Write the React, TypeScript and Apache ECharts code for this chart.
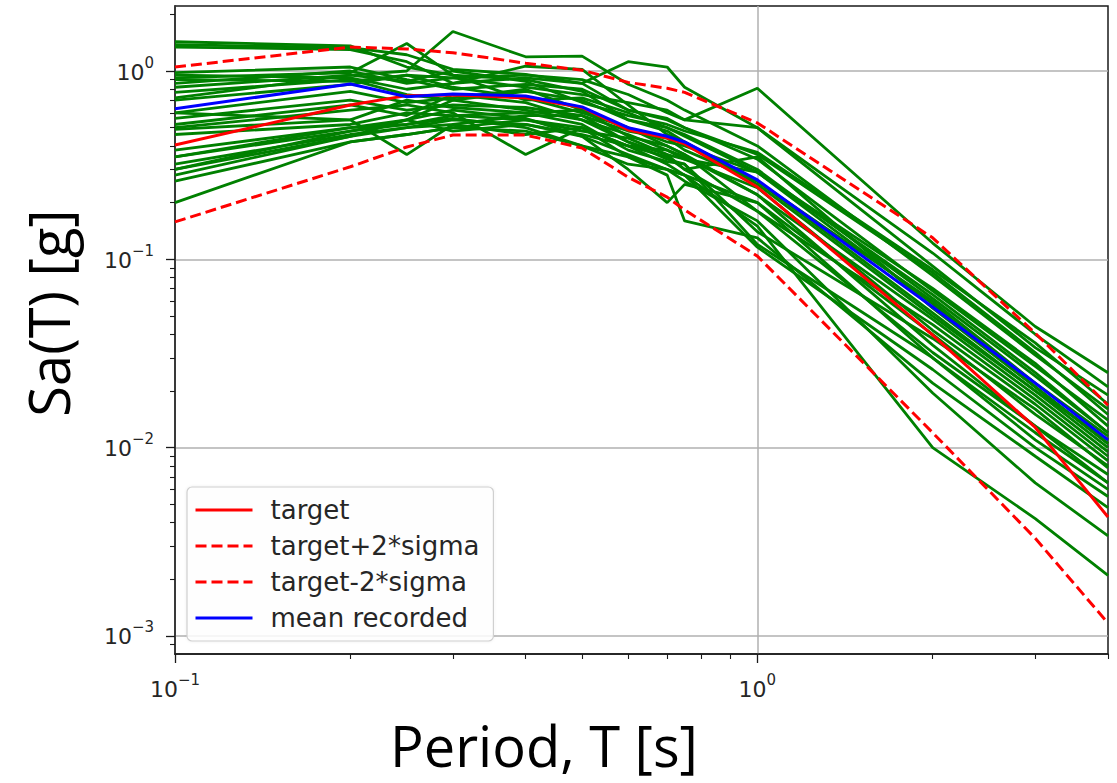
import React, { useEffect, useRef } from "react";
import * as echarts from "echarts";

// Periods (s)
const periods = [0.1, 0.2, 0.25, 0.3, 0.4, 0.5, 0.6, 0.7, 0.75, 1.0, 2.0, 3.0, 4.0];

// Target spectrum and +/- 2 sigma
const target = [0.405, 0.66, 0.74, 0.745, 0.72, 0.64, 0.486, 0.44, 0.41, 0.242, 0.0396, 0.0128, 0.00428];
const targetPlus = [1.05, 1.34, 1.31, 1.25, 1.1, 1.01, 0.87, 0.81, 0.77, 0.53, 0.13, 0.0405, 0.0168];
const targetMinus = [0.158, 0.31, 0.395, 0.457, 0.457, 0.39, 0.273, 0.214, 0.183, 0.104, 0.012, 0.0033, 0.00117];
const meanRecorded = [0.63, 0.853, 0.73, 0.755, 0.737, 0.645, 0.5, 0.45, 0.42, 0.264, 0.0558, 0.022, 0.011];

// Recorded spectra
const r01 = [1.43, 1.36, 1.05, 0.95, 0.9, 0.78, 0.55, 0.5, 0.46, 0.3, 0.062, 0.024, 0.012];
const r02 = [1.38, 1.33, 1.22, 1.02, 0.96, 0.86, 0.62, 0.55, 0.5, 0.34, 0.068, 0.027, 0.014];
const r03 = [1.34, 1.3, 1.12, 0.86, 1.06, 1.02, 0.66, 0.46, 0.42, 0.25, 0.05, 0.02, 0.011];
const r04 = [0.72, 0.95, 1.0, 1.62, 1.19, 1.2, 0.85, 0.7, 0.62, 0.4, 0.082, 0.031, 0.016];
const r05 = [0.86, 1.0, 0.86, 0.92, 0.95, 0.9, 0.75, 0.6, 0.55, 0.81, 0.122, 0.044, 0.025];
const r06 = [0.95, 0.92, 0.8, 0.86, 0.92, 0.86, 1.12, 1.05, 0.82, 0.5, 0.092, 0.034, 0.019];
const r07 = [0.6, 0.55, 0.36, 0.52, 0.46, 0.5, 0.35, 0.3, 0.28, 0.2, 0.04, 0.015, 0.008];
const r08 = [0.5, 0.62, 0.66, 0.6, 0.36, 0.5, 0.4, 0.35, 0.3, 0.18, 0.045, 0.018, 0.009];
const r09 = [0.3, 0.48, 0.55, 0.62, 0.56, 0.45, 0.3, 0.2, 0.25, 0.2, 0.03, 0.012, 0.0065];
const r10 = [0.35, 0.5, 0.52, 0.56, 0.5, 0.4, 0.35, 0.28, 0.16, 0.13, 0.022, 0.009, 0.0048];
const r11 = [0.28, 0.45, 0.5, 0.55, 0.52, 0.45, 0.36, 0.3, 0.28, 0.15, 0.01, 0.0042, 0.0021];
const r12 = [0.26, 0.42, 0.46, 0.5, 0.48, 0.4, 0.32, 0.3, 0.26, 0.16, 0.0195, 0.0065, 0.0034];
const r13 = [0.2, 0.42, 0.46, 0.5, 0.55, 0.5, 0.4, 0.38, 0.35, 0.22, 0.035, 0.013, 0.0065];
const r14 = [0.98, 1.05, 0.9, 0.8, 0.85, 0.8, 0.62, 0.56, 0.5, 0.36, 0.085, 0.032, 0.015];
const r15 = [0.92, 0.98, 1.4, 0.95, 0.7, 0.72, 0.6, 0.5, 0.45, 0.29, 0.07, 0.028, 0.013];
const r16 = [0.77, 0.9, 0.75, 0.7, 0.78, 0.7, 0.55, 0.48, 0.42, 0.26, 0.06, 0.022, 0.0115];
const r17 = [0.7, 0.85, 0.95, 0.82, 0.72, 0.6, 0.5, 0.42, 0.4, 0.29, 0.058, 0.021, 0.0105];
const r18 = [0.6, 0.78, 0.68, 0.72, 0.8, 0.62, 0.45, 0.4, 0.36, 0.22, 0.048, 0.019, 0.0095];
const r19 = [0.56, 0.7, 0.62, 0.66, 0.64, 0.58, 0.48, 0.44, 0.38, 0.26, 0.052, 0.02, 0.01];
const r20 = [0.52, 0.66, 0.58, 0.75, 0.68, 0.55, 0.42, 0.36, 0.34, 0.24, 0.042, 0.017, 0.0085];
const r21 = [0.49, 0.55, 0.7, 0.64, 0.6, 0.52, 0.38, 0.33, 0.32, 0.14, 0.038, 0.016, 0.0078];
const r22 = [0.46, 0.52, 0.6, 0.58, 0.55, 0.48, 0.44, 0.36, 0.3, 0.35, 0.055, 0.021, 0.0105];
const r23 = [0.38, 0.5, 0.55, 0.7, 0.62, 0.55, 0.46, 0.38, 0.34, 0.29, 0.065, 0.025, 0.012];
const r24 = [0.35, 0.48, 0.52, 0.58, 0.6, 0.62, 0.5, 0.4, 0.36, 0.18, 0.032, 0.013, 0.0072];
const r25 = [0.32, 0.46, 0.5, 0.52, 0.58, 0.58, 0.42, 0.34, 0.32, 0.12, 0.03, 0.011, 0.006];
const r26 = [0.3, 0.45, 0.55, 0.48, 0.52, 0.46, 0.4, 0.32, 0.28, 0.116, 0.026, 0.01, 0.0055];
const r27 = [0.9, 0.88, 0.95, 0.92, 0.82, 0.75, 0.68, 0.62, 0.55, 0.5, 0.108, 0.04, 0.021];
const r28 = [0.82, 0.95, 0.88, 1.0, 0.88, 0.68, 0.58, 0.52, 0.48, 0.37, 0.088, 0.036, 0.017];

const records = [r01, r02, r03, r04, r05, r06, r07, r08, r09, r10, r11, r12, r13, r14,
  r15, r16, r17, r18, r19, r20, r21, r22, r23, r24, r25, r26, r27, r28];

// Axis ticks
const xMajorTicks = [0.1, 1];
const xMinorTicks = [0.2, 0.3, 0.4, 0.5, 0.6, 0.7, 0.8, 0.9, 2, 3, 4];
const yMajorTicks = [0.001, 0.01, 0.1, 1];
const yMinorTicks = [0.0008, 0.0009, 0.002, 0.003, 0.004, 0.005, 0.006, 0.007, 0.008, 0.009,
  0.02, 0.03, 0.04, 0.05, 0.06, 0.07, 0.08, 0.09, 0.2, 0.3, 0.4, 0.5, 0.6, 0.7, 0.8, 0.9, 2];

const X_MIN = 0.1, X_MAX = 4;
const Y_MIN = 0.000802, Y_MAX = 2.214;

const pairs = (vals: number[]) => periods.map((p, i) => [p, vals[i]]);

const sup = (v: number) => {
  const e = Math.round(Math.log10(v));
  return "{b|10}{s|" + (e < 0 ? "\u2212" + -e : String(e)) + "}";
};

const rich = {
  b: { fontSize: 22, fontFamily: "DejaVu Sans", color: "#262626", verticalAlign: "bottom", padding: [6, 0, 4, 0] },
  s: { fontSize: 15, fontFamily: "DejaVu Sans", color: "#262626", verticalAlign: "top" },
};

export default function App() {
  const ref = useRef<HTMLDivElement>(null);
  useEffect(() => {
    if (!ref.current) return;
    const chart = echarts.init(ref.current, undefined, { renderer: "svg" });
    const greenSeries = records.map((r, i) => ({
      name: "record " + (i + 1),
      type: "line",
      data: pairs(r),
      showSymbol: false,
      symbol: "none",
      lineStyle: { color: "#008000", width: 2.8 },
      itemStyle: { color: "#008000" },
      z: 2,
      silent: true,
    }));
    const option: any = {
      animation: false,
      backgroundColor: "#ffffff",
      grid: { left: 175, right: 9, top: 6, bottom: 129, show: true, borderColor: "#1a1a1a", borderWidth: 1.5, backgroundColor: "transparent" },
      xAxis: [
        {
          type: "log", logBase: 10, min: X_MIN, max: X_MAX, position: "bottom",
          axisLine: { show: true, lineStyle: { color: "#1a1a1a", width: 1.5 } },
          axisTick: { show: true, length: 9, customValues: xMajorTicks, lineStyle: { color: "#1a1a1a", width: 1.3 } },
          axisLabel: { show: true, customValues: xMajorTicks, margin: 18, formatter: sup, rich },
          splitLine: { show: true, lineStyle: { color: "#b0b0b0", width: 1.5 } },
        },
        {
          type: "log", logBase: 10, min: X_MIN, max: X_MAX, position: "bottom",
          axisLine: { show: false },
          axisTick: { show: true, length: 5, customValues: xMinorTicks, lineStyle: { color: "#1a1a1a", width: 1.1 } },
          axisLabel: { show: false },
          splitLine: { show: false },
        },
      ],
      yAxis: [
        {
          type: "log", logBase: 10, min: Y_MIN, max: Y_MAX, position: "left",
          axisLine: { show: true, lineStyle: { color: "#1a1a1a", width: 1.5 } },
          axisTick: { show: true, length: 9, customValues: yMajorTicks, lineStyle: { color: "#1a1a1a", width: 1.3 } },
          axisLabel: { show: true, customValues: yMajorTicks, margin: 21, formatter: sup, rich },
          splitLine: { show: true, lineStyle: { color: "#b0b0b0", width: 1.5 } },
        },
        {
          type: "log", logBase: 10, min: Y_MIN, max: Y_MAX, position: "left",
          axisLine: { show: false },
          axisTick: { show: true, length: 5, customValues: yMinorTicks, lineStyle: { color: "#1a1a1a", width: 1.1 } },
          axisLabel: { show: false },
          splitLine: { show: false },
        },
      ],
      legend: {
        data: ["target", "target+2*sigma", "target-2*sigma", "mean recorded"],
        orient: "vertical",
        left: 187,
        top: 487,
        padding: [9, 14, 9, 7],
        itemGap: 8,
        itemWidth: 57,
        itemHeight: 14,
        backgroundColor: "rgba(255,255,255,0.85)",
        borderColor: "#d0d0d0",
        borderWidth: 1.2,
        borderRadius: 5,
        shadowColor: "rgba(0,0,0,0.08)",
        shadowBlur: 3,
        itemStyle: { opacity: 0 },
        lineStyle: { width: 3 },
        textStyle: { fontSize: 26, fontFamily: "DejaVu Sans", color: "#262626", lineHeight: 28, padding: [0, 0, 0, 13] },
        selectedMode: false,
      },
      graphic: [
        {
          type: "text", x: 48, y: 313, rotation: Math.PI / 2,
          style: { text: "Sa(T) [g]", fontSize: 56, lineHeight: 60, fontFamily: "Open Sans", fill: "#000", align: "center", verticalAlign: "middle" },
        },
        {
          type: "text", x: 544, y: 745,
          style: { text: "Period, T [s]", fontSize: 56, lineHeight: 60, fontFamily: "Open Sans", fill: "#000", align: "center", verticalAlign: "middle" },
        },
      ],
      series: [
        ...greenSeries,
        {
          name: "target", type: "line", data: pairs(target), symbol: "none", z: 3,
          lineStyle: { color: "#ff0000", width: 3 }, itemStyle: { color: "#ff0000" },
        },
        {
          name: "target+2*sigma", type: "line", data: pairs(targetPlus), symbol: "none", z: 3,
          lineStyle: { color: "#ff0000", width: 3, type: [11, 5] }, itemStyle: { color: "#ff0000" },
        },
        {
          name: "target-2*sigma", type: "line", data: pairs(targetMinus), symbol: "none", z: 3,
          lineStyle: { color: "#ff0000", width: 3, type: [11, 5] }, itemStyle: { color: "#ff0000" },
        },
        {
          name: "mean recorded", type: "line", data: pairs(meanRecorded), symbol: "none", z: 4,
          lineStyle: { color: "#0000ff", width: 3 }, itemStyle: { color: "#0000ff" },
        },
      ],
    };
    chart.setOption(option);
    return () => chart.dispose();
  }, []);
  return (
    <div
      ref={ref}
      style={{ position: "fixed", left: 0, top: 0, width: 1117, height: 783, background: "#fff" }}
    />
  );
}
